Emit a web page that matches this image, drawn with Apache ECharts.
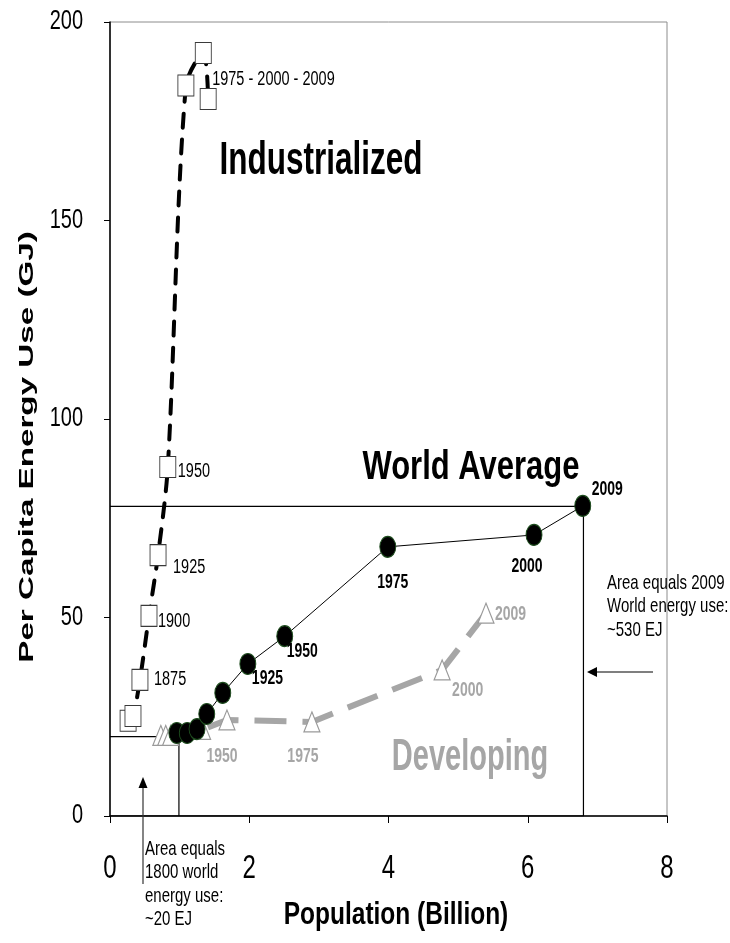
<!DOCTYPE html>
<html>
<head>
<meta charset="utf-8">
<script src="https://cdn.jsdelivr.net/npm/echarts@6/dist/echarts.min.js"></script>
<style>
html,body{margin:0;padding:0;background:#fff;}
#c{width:730px;height:943px;}
</style>
</head>
<body>
<div id="c"></div>
<script>
// ---------------- data ----------------
// Industrialized countries: population (billion) vs per-capita energy use (GJ)
const indPop    = [0.26, 0.33, 0.43, 0.56, 0.69, 0.83, 1.09, 1.34, 1.41];
const indEnergy = [24.0, 25.2, 34.3, 50.4, 65.7, 87.9, 184.0, 192.2, 180.6];
const indLabels = ['', '', '1875', '1900', '1925', '1950', '', '', '1975 - 2000 - 2009'];

// World average
const worldPop    = [0.96, 1.11, 1.25, 1.39, 1.62, 1.98, 2.51, 3.99, 6.09, 6.79];
const worldEnergy = [20.9, 20.9, 21.9, 25.7, 31.0, 38.3, 45.3, 67.8, 70.8, 78.1];
const worldLabels = ['', '', '', '', '', '1925', '1950', '1975', '2000', '2009'];

// Developing countries
const devPop    = [0.73, 0.80, 0.87, 1.33, 1.68, 2.90, 4.77, 5.40];
const devEnergy = [20.3, 20.3, 20.3, 21.8, 24.2, 23.7, 36.8, 51.1];
const devLabels = ['', '', '', '', '1950', '1975', '2000', '2009'];

// Area boxes: [population, per-capita energy]
const box1800 = [0.99, 20];
const box2009 = [6.8, 78];

// Axis ticks
const xTicks = [0, 2, 4, 6, 8];
const yTicks = [0, 50, 100, 150, 200];

// ---------------- layout / styles ----------------
const FONT = '"Liberation Sans", Arial, sans-serif';
const STRETCH = 1.45;
// label offsets (px) relative to the point: [dx, dy, align]
const indLabelPos = {2: [14, -1, 'left'], 3: [9, 5, 'left'], 4: [15, 12, 'left'], 5: [10, 4, 'left'], 8: [4, -20, 'left']};
const worldLabelPos = {5: [4, 14, 'left'], 6: [2, 15, 'left'], 7: [5, 36, 'center'], 8: [-7, 31, 'center'], 9: [9, -17, 'left']};
const devLabelPos = {4: [-5, 36, 'center'], 5: [-9, 34, 'center'], 6: [10, 20, 'left'], 7: [9, 1, 'left']};

const pairs = (xs, ys) => xs.map((x, i) => [x, ys[i]]);

const chart = echarts.init(document.getElementById('c'), null, {renderer: 'canvas'});

const option = {
  animation: false,
  backgroundColor: '#fff',
  grid: {
    left: 110, right: 63, top: 22, bottom: 127,
    show: true, borderColor: '#8c8c8c', borderWidth: 1, backgroundColor: 'transparent',
    containLabel: false, outerBoundsMode: 'none'
  },
  xAxis: {
    type: 'value', min: xTicks[0], max: xTicks[xTicks.length - 1], interval: xTicks[1] - xTicks[0],
    axisLine: {show: true, onZero: false, lineStyle: {color: '#000', width: 1.5}},
    axisTick: {show: true, inside: false, length: 7, lineStyle: {color: '#000', width: 1}},
    axisLabel: {show: false},
    splitLine: {show: false}
  },
  yAxis: {
    type: 'value', min: yTicks[0], max: yTicks[yTicks.length - 1], interval: yTicks[1] - yTicks[0],
    axisLine: {show: true, onZero: false, lineStyle: {color: '#000', width: 1.5}},
    axisTick: {show: true, inside: false, length: 6, lineStyle: {color: '#000', width: 1}},
    axisLabel: {show: false},
    splitLine: {show: false}
  },
  series: [
    {
      type: 'line', name: 'box2009', silent: true, z: 1, symbol: 'none',
      data: [[0, box2009[1]], [box2009[0], box2009[1]], [box2009[0], 0], [0, 0]],
      lineStyle: {color: '#000', width: 1.2}, emphasis: {disabled: true}
    },
    {
      type: 'line', name: 'box1800', silent: true, z: 1, symbol: 'none',
      data: [[0, box1800[1]], [box1800[0], box1800[1]], [box1800[0], 0]],
      lineStyle: {color: '#000', width: 1.2}, emphasis: {disabled: true}
    },
    {
      type: 'line', name: 'Developing', z: 2, silent: true,
      data: pairs(devPop, devEnergy),
      symbol: 'triangle', symbolSize: [16, 20],
      itemStyle: {color: '#fff', borderColor: '#9a9a9a', borderWidth: 1.2},
      lineStyle: {color: '#a6a6a6', width: 6, type: [32, 16]},
      emphasis: {disabled: true}
    },
    {
      type: 'line', name: 'World Average', z: 3, silent: true,
      data: pairs(worldPop, worldEnergy),
      symbol: 'circle', symbolSize: [16, 21],
      itemStyle: {color: '#000', borderColor: '#1e4d1e', borderWidth: 1},
      lineStyle: {color: '#000', width: 1},
      emphasis: {disabled: true}
    },
    {
      type: 'line', name: 'Industrialized', z: 4, silent: true,
      data: pairs(indPop, indEnergy),
      smooth: 0.3,
      symbol: 'rect', symbolSize: [16, 21],
      itemStyle: {color: '#fff', borderColor: '#3a3a3a', borderWidth: 1},
      lineStyle: {color: '#000', width: 4, type: [14, 12], cap: 'round'},
      emphasis: {disabled: true}
    }
  ]
};
chart.setOption(option);

// ---------------- labels & annotations ----------------
function txt(x, y, text, o) {
  o = o || {};
  const align = o.align || 'left';
  const valign = o.valign || 'middle';
  return {
    type: 'text', x: x, y: y, z: 100, silent: true,
    rotation: o.rotation || 0,
    scaleX: o.scaleX || 1, scaleY: o.scaleY || 1,
    style: {
      text: text, fill: o.color || '#000',
      fontSize: o.size || 14, fontWeight: o.weight || 'normal', fontFamily: FONT,
      align: align, verticalAlign: valign, textAlign: align, textVerticalAlign: valign,
      lineHeight: o.lineHeight
    }
  };
}

const graphics = [];
// tick labels (drawn from the axis scale)
xTicks.forEach(v => {
  const p = chart.convertToPixel({gridIndex: 0}, [v, 0]);
  graphics.push(txt(p[0], 869, String(v), {align: 'center', size: 24, scaleY: 1.35}));
});
yTicks.forEach(v => {
  const p = chart.convertToPixel({gridIndex: 0}, [0, v]);
  graphics.push(txt(83, p[1], String(v), {align: 'right', size: 20, scaleY: 1.35}));
});

function addLabels(xs, ys, labels, pos, style) {
  labels.forEach((lab, i) => {
    if (!lab) return;
    const p = chart.convertToPixel({gridIndex: 0}, [xs[i], ys[i]]);
    const off = pos[i] || [10, 0, 'left'];
    graphics.push(txt(p[0] + off[0], p[1] + off[1], lab, Object.assign({align: off[2], scaleY: STRETCH}, style)));
  });
}
addLabels(indPop, indEnergy, indLabels, indLabelPos, {size: 14.5, color: '#000'});
addLabels(worldPop, worldEnergy, worldLabels, worldLabelPos, {size: 14, weight: 'bold', color: '#000'});
addLabels(devPop, devEnergy, devLabels, devLabelPos, {size: 14, weight: 'bold', color: '#a6a6a6'});

// big group titles
graphics.push(txt(321, 161, 'Industrialized', {align: 'center', size: 31.5, weight: 'bold', scaleY: 1.45}));
graphics.push(txt(471, 468, 'World Average', {align: 'center', size: 31, weight: 'bold', scaleY: 1.3}));
graphics.push(txt(470, 758, 'Developing', {align: 'center', size: 29, weight: 'bold', scaleY: 1.5, color: '#a6a6a6'}));

// axis titles
graphics.push(txt(396, 915, 'Population (Billion)', {align: 'center', size: 24.5, weight: 'bold', scaleY: 1.3}));
graphics.push(txt(27, 447, 'Per Capita Energy Use (GJ)', {align: 'center', size: 21, weight: 'bold', scaleX: 1.58, rotation: Math.PI / 2}));

// annotations
graphics.push(txt(607, 571, 'Area equals 2009\nWorld energy use:\n~530 EJ', {align: 'left', valign: 'top', size: 15, scaleY: 1.4, lineHeight: 17}));
graphics.push(txt(145, 838, 'Area equals\n1800 world\nenergy use:\n~20 EJ', {align: 'left', valign: 'top', size: 15, scaleY: 1.4, lineHeight: 16.5}));

// arrows
graphics.push({type: 'line', z: 100, silent: true, shape: {x1: 653, y1: 672, x2: 594, y2: 672}, style: {stroke: '#000', lineWidth: 1.2}});
graphics.push({type: 'polygon', z: 100, silent: true, shape: {points: [[587, 672], [597, 667], [597, 677]]}, style: {fill: '#000'}});
graphics.push({type: 'line', z: 100, silent: true, shape: {x1: 143, y1: 884, x2: 143, y2: 786}, style: {stroke: '#333', lineWidth: 1.2}});
graphics.push({type: 'polygon', z: 100, silent: true, shape: {points: [[143, 777], [138.5, 788], [147.5, 788]]}, style: {fill: '#000'}});

chart.setOption({graphic: graphics});
</script>
</body>
</html>
